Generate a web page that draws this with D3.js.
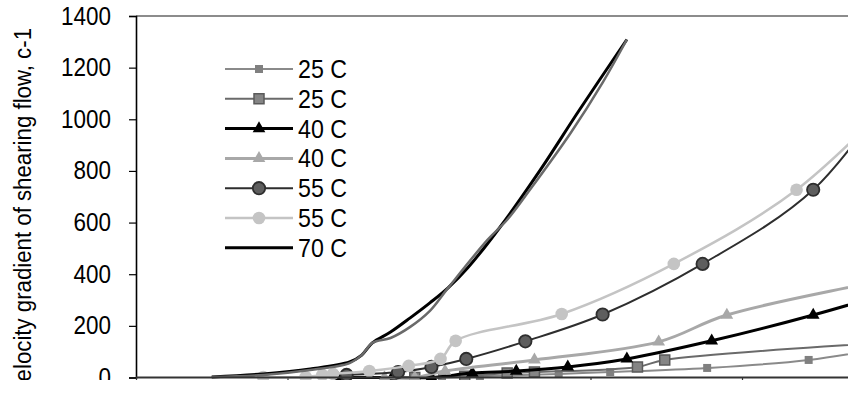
<!DOCTYPE html>
<html>
<head>
<meta charset="utf-8">
<script src="https://cdn.jsdelivr.net/npm/d3@7"></script>
<style>
  body { margin: 0; background: #fff; }
  text { font-family: "Liberation Sans", Arial, sans-serif; }
</style>
</head>
<body>
<script>
// values (x in axis units, y in c-1)
var yTicks = [0, 200, 400, 600, 800, 1000, 1200, 1400];
var xTicks = [0, 10, 20, 30, 40];

var x25a = [20.2, 22.7, 27.9, 31.3, 37.7, 44.4, 50.4];
var y25a = [0, 5, 14, 21, 37, 68, 125];

var x25b = [18.4, 21.7, 24.5, 26.3, 33.1, 34.9, 53.7];
var y25b = [0, 5, 17, 21, 41, 68, 150];

var x40a = [13.3, 16.9, 19.5, 22.2, 25.1, 28.5, 32.4, 38.0, 44.7, 50.4];
var y40a = [0, 0, 0, 17, 25, 41, 72, 142, 242, 340];

var x40b = [16.4, 18.4, 20.4, 26.3, 34.5, 39.0, 50.4];
var y40b = [0, 0, 25, 68, 138, 242, 387];

var x55a = [13.9, 17.3, 19.5, 21.8, 25.7, 30.8, 37.4, 44.7, 50.4];
var y55a = [10, 21, 41, 72, 140, 244, 440, 727, 1150];

var x55b = [8.4, 11.2, 12.3, 13.0, 15.4, 18.0, 20.1, 21.1, 28.1, 35.5, 43.6, 51.1];
var y55b = [2, 2, 10, 14, 25, 45, 72, 142, 246, 440, 727, 1140];

var x70 = [5.0, 8.4, 11.5, 14.1, 14.9, 15.6, 16.8, 18.1, 19.4, 20.6, 21.9, 24.0, 26.7, 29.2, 32.4];
var y70 = [2, 14, 33, 60, 87, 134, 176, 231, 289, 347, 425, 580, 805, 1030, 1309];

// second 70 C curve, not listed in the legend
var x70b = [5.0, 8.4, 11.5, 14.1, 14.9, 15.6, 16.8, 18.1, 19.4, 20.6, 23.2, 24.5, 26.0, 28.7, 30.8, 32.4];
var y70b = [2, 10, 29, 56, 87, 134, 153, 196, 258, 347, 533, 611, 727, 948, 1142, 1309];

var names = ["25 C", "25 C", "40 C", "40 C", "55 C", "55 C", "70 C"];

function pts(xs, ys) { return xs.map(function(d, i) { return [d, ys[i]]; }); }

var series = [
  {name: names[0], data: pts(x25a, y25a), line: "#8a8a8a", lw: 2,   sym: d3.symbolSquare,   size: 64,  fill: "#808080", stroke: "none", sw: 0},
  {name: names[1], data: pts(x25b, y25b), line: "#6a6a6a", lw: 2,   sym: d3.symbolSquare,   size: 100, fill: "#858585", stroke: "#5a5a5a", sw: 1.5},
  {name: names[2], data: pts(x40a, y40a), line: "#000",    lw: 3,   sym: d3.symbolTriangle, size: 70,  fill: "#000", stroke: "none", sw: 0},
  {name: names[3], data: pts(x40b, y40b), line: "#a8a8a8", lw: 3,   sym: d3.symbolTriangle, size: 70,  fill: "#a8a8a8", stroke: "none", sw: 0},
  {name: names[4], data: pts(x55a, y55a), line: "#2e2e2e", lw: 2,   sym: d3.symbolCircle,   size: 120, fill: "#5e5e5e", stroke: "#2e2e2e", sw: 1.8},
  {name: names[5], data: pts(x55b, y55b), line: "#c4c4c4", lw: 2.5, sym: d3.symbolCircle,   size: 125, fill: "#c4c4c4", stroke: "none", sw: 0},
  {name: names[6], data: pts(x70, y70),   line: "#000",    lw: 3,   sym: null},
  {name: null,     data: pts(x70b, y70b), line: "#6a6a6a", lw: 2.5, sym: null}
];

var width = 848, height = 403;
var plotLeft = 136, plotTop = 16, plotBottom = 377.5;

var svg = d3.select("body").append("svg")
    .attr("width", width)
    .attr("height", height);

var defs = svg.append("defs");
defs.append("clipPath").attr("id", "plot")
  .append("rect").attr("x", plotLeft).attr("y", 0).attr("width", width - plotLeft).attr("height", 380);
defs.append("clipPath").attr("id", "crop")
  .append("rect").attr("x", 0).attr("y", 0).attr("width", width).attr("height", 380);

var x = d3.scaleLinear().domain([0, 47]).range([plotLeft, plotLeft + 47 * 15.15]);
var y = d3.scaleLinear().domain([0, 1400]).range([plotBottom, plotTop]);

var root = svg.append("g").attr("clip-path", "url(#crop)");

// top border of plot area
root.append("line")
  .attr("x1", plotLeft).attr("x2", width)
  .attr("y1", plotTop).attr("y2", plotTop)
  .attr("stroke", "#8c8c8c").attr("stroke-width", 2);

// y axis
var yAxis = d3.axisLeft(y).tickValues(yTicks).tickSize(7).tickPadding(18).tickFormat(d3.format("d"));
var gy = root.append("g")
  .attr("transform", "translate(" + plotLeft + ",0)")
  .call(yAxis);
gy.select(".domain").attr("stroke", "#000").attr("stroke-width", 1.6);
gy.selectAll(".tick line").attr("stroke", "#000").attr("stroke-width", 1.2);
gy.selectAll(".tick text")
  .attr("font-size", 25)
  .attr("fill", "#000")
  .attr("font-family", "Liberation Sans, Arial, sans-serif")
  .attr("textLength", function(d) { return String(d).length * 12.5; })
  .attr("lengthAdjust", "spacingAndGlyphs");

// x axis (labels are outside the picture)
var xAxis = d3.axisBottom(x).tickValues(xTicks).tickSize(4).tickFormat("");
var gx = root.append("g")
  .attr("transform", "translate(0," + plotBottom + ")")
  .call(xAxis);
gx.select(".domain").remove();
gx.selectAll(".tick line").attr("stroke", "#333").attr("stroke-width", 1.2);

// y title
root.append("text")
  .attr("transform", "translate(31,28) rotate(-90)")
  .attr("text-anchor", "end")
  .attr("font-size", 23)
  .attr("textLength", 367)
  .attr("lengthAdjust", "spacingAndGlyphs")
  .attr("fill", "#000")
  .text("Velocity gradient of shearing flow, c-1");

var line = d3.line()
  .x(function(d) { return x(d[0]); })
  .y(function(d) { return y(d[1]); })
  .curve(d3.curveCatmullRom);

var plot = root.append("g").attr("clip-path", "url(#plot)");

series.forEach(function(s) {
  var g = plot.append("g");
  g.append("path")
    .attr("d", line(s.data))
    .attr("fill", "none")
    .attr("stroke", s.line)
    .attr("stroke-width", s.lw)
    .attr("stroke-linejoin", "round");
  if (s.sym) {
    g.selectAll("path.mark")
      .data(s.data)
    .enter().append("path")
      .attr("class", "mark")
      .attr("d", d3.symbol().type(s.sym).size(s.size))
      .attr("transform", function(d) { return "translate(" + x(d[0]) + "," + y(d[1]) + ")"; })
      .attr("fill", s.fill)
      .attr("stroke", s.stroke)
      .attr("stroke-width", s.sw);
  }
});

// x axis line on top of the marks
plot.append("line")
  .attr("x1", plotLeft).attr("x2", width)
  .attr("y1", plotBottom).attr("y2", plotBottom)
  .attr("stroke", "#333").attr("stroke-width", 2);

// legend
var legend = root.append("g");
series.filter(function(s) { return s.name; }).forEach(function(s, i) {
  var ly = 69 + i * 29.8;
  var g = legend.append("g").attr("transform", "translate(0," + ly + ")");
  g.append("line")
    .attr("x1", 225).attr("x2", 293)
    .attr("stroke", s.line).attr("stroke-width", s.lw);
  if (s.sym) {
    g.append("path")
      .attr("d", d3.symbol().type(s.sym).size(s.size))
      .attr("transform", "translate(259,0)")
      .attr("fill", s.fill)
      .attr("stroke", s.stroke)
      .attr("stroke-width", s.sw);
  }
  g.append("text")
    .attr("x", 298)
    .attr("dy", "0.36em")
    .attr("font-size", 25)
    .attr("textLength", 49)
    .attr("lengthAdjust", "spacingAndGlyphs")
    .attr("fill", "#000")
    .text(s.name);
});
</script>
</body>
</html>
